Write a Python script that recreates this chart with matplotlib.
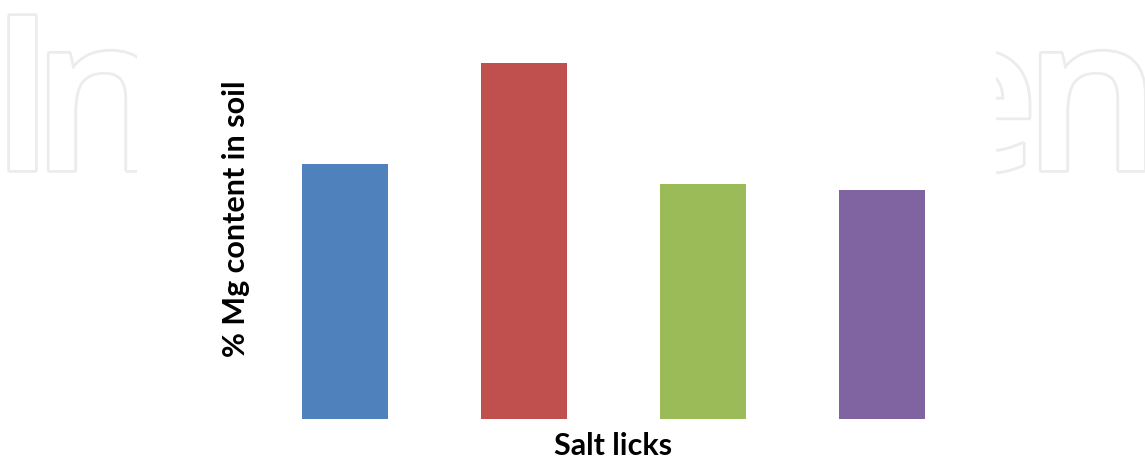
import matplotlib
matplotlib.use("Agg")
import matplotlib.pyplot as plt
import matplotlib.patheffects as pe
from matplotlib.patches import Rectangle

# salt lick samples (no tick labels shown in the original)
licks = ["Lick 1", "Lick 2", "Lick 3", "Lick 4"]
mg_content = [0.716, 1.00, 0.660, 0.643]
bar_colors = ["#4F81BD", "#C0504D", "#9BBB59", "#8064A2"]

fig = plt.figure(figsize=(11.45, 4.61), dpi=100)
W, H = 1145, 461

# faint outlined watermark behind the chart, letter by letter
wm = dict(fontsize=155, family="Open Sans", fontweight="semibold", color="white",
          va="baseline", ha="left", zorder=0,
          path_effects=[pe.withStroke(linewidth=4, foreground="#ececec")])
for ch, px in [("I", -10), ("n", 32), ("e", 915), ("n", 1024)]:
    fig.text(px / W, 1 - 170 / H, ch, **wm)
fig.patches.append(Rectangle((137 / W, 0), (996 - 137) / W, 1, transform=fig.transFigure,
                             facecolor="white", edgecolor="none", zorder=1))

ax = fig.add_axes([255.5 / W, 42 / H, 716 / W, 356 / H])
ax.patch.set_alpha(0)
ax.set_zorder(2)

x = range(len(licks))
ax.bar(x, mg_content, width=0.48, color=bar_colors)
ax.set_xlim(-0.5, 3.5)
ax.set_ylim(0, 1.0)
ax.set_xticks([])
ax.set_yticks([])
for s in ax.spines.values():
    s.set_visible(False)

fig.text(613 / W, 1 - 446 / H, "Salt licks", ha="center", va="center",
         fontsize=22, fontweight="bold", family="Lato", zorder=3)
fig.text(236 / W, 1 - 219 / H, "% Mg content in soil", ha="center", va="center",
         rotation=90, fontsize=22, fontweight="bold", family="Lato", zorder=3)

fig.savefig("out.png", dpi=100)
